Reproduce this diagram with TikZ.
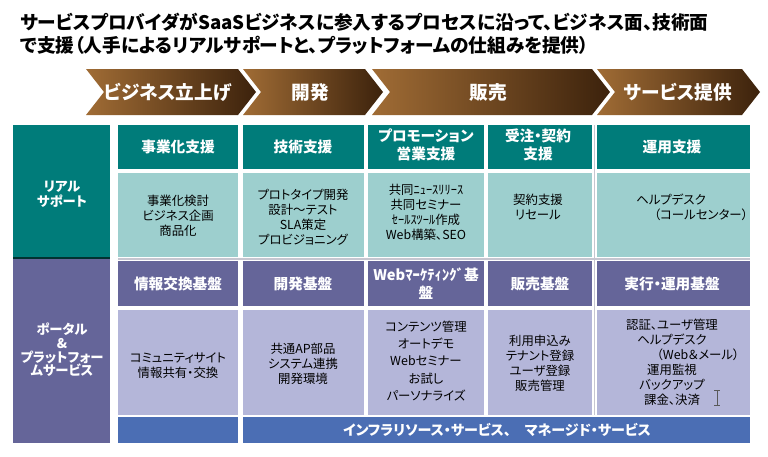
\documentclass[tikz,border=0pt]{standalone}
\usepackage{fontspec}
\setmainfont{Noto Sans CJK JP}[RawFeature=+palt]
\definecolor{ctealdk}{HTML}{007C7A}
\definecolor{ctealbg}{HTML}{9DCFCE}
\definecolor{cpurdk}{HTML}{656599}
\definecolor{cpurbg}{HTML}{B4B6D9}
\definecolor{cinfra}{HTML}{4B6EB4}
\definecolor{cbrownlt}{HTML}{A06C35}
\definecolor{cbrownmd}{HTML}{885829}
\definecolor{cbrowndk}{HTML}{3C220C}
\definecolor{csep}{HTML}{C6C6D0}
\tikzset{
  chev/.style={left color=cbrownlt, middle color=cbrownmd, right color=cbrowndk},
  chevtext/.style={text=white, inner sep=0pt, font=\fontsize{14}{16}\selectfont\bfseries},
  hdrtext/.style={text=white, align=center, inner sep=0pt, font=\fontsize{11}{13.5}\selectfont\bfseries},
  bodytext/.style={align=center, inner sep=0pt, font=\fontsize{9.3}{11.3}\selectfont},
  sidetext/.style={text=white, align=center, inner sep=0pt, font=\fontsize{10}{11}\selectfont\bfseries},
  titletext/.style={align=left, inner sep=0pt, font=\fontsize{14}{17.5}\selectfont\bfseries},
}

\begin{document}
\begin{tikzpicture}[x=0.75pt, y=-0.75pt]
  \useasboundingbox (0,0) rectangle (768,457);
  % title
  \node[titletext, anchor=west] (title) at (20,34) {サービスプロバイダがSaaSビジネスに参入するプロセスに沿って、ビジネス面、技術面\\で支援（人手によるリアルサポートと、プラットフォームの仕組みを提供）};
  % process stages
  \foreach \xl/\xr/\tx/\lbl [count=\i] in {86/238/168/ビジネス立上げ, 243/365/310/開発, 372/592/488/販売, 597/742/678/サービス提供} {
    \shade[chev] (\xl,69) -- (\xr,69) -- (\xr+18,92) -- (\xr,115) -- (\xl,115) -- (\xl+18,92) -- cycle;
    \node[chevtext] (stage\i) at (\tx,92) {\lbl};
  }
  % row labels
  \fill[ctealdk] (13,125) rectangle (110,258);
  \fill[cpurdk] (13,259) rectangle (110,443);
  \draw[ctealdk!40!black, line width=0.8pt] (13,258) -- (110,258);
  \node[sidetext, font=\fontsize{10}{11.3}\selectfont\bfseries] (real) at (62,194) {リアル\\サポート};
  \node[sidetext, font=\fontsize{10}{10.2}\selectfont\bfseries] (portal) at (62,350) {ポータル\\\&\\プラットフォー\\ムサービス};
  % cells
  \foreach \xa/\xb in {118/238, 243/364, 368/484, 488/592, 597/750} {
    \fill[ctealdk] (\xa,125) rectangle (\xb,169);
    \fill[ctealbg] (\xa,173) rectangle (\xb,257);
    \fill[cpurdk] (\xa,261) rectangle (\xb,306);
    \fill[cpurbg] (\xa,310) rectangle (\xb,415);
  }
  \draw[csep, line width=0.8pt] (118,259) -- (750,259);
  \draw[csep, line width=0.8pt] (594.5,125) -- (594.5,415);
  % real support
  \node[hdrtext] (rh1) at (178,147) {事業化支援};
  \node[hdrtext] (rh2) at (303,147) {技術支援};
  \node[hdrtext] (rh3) at (426,145) {プロモーション\\営業支援};
  \node[hdrtext] (rh4) at (538,145) {受注・契約\\支援};
  \node[hdrtext] (rh5) at (672,147) {運用支援};
  \node[bodytext] (rb1) at (178,216) {事業化検討\\ビジネス企画\\商品化};
  \node[bodytext] (rb2) at (303,217) {プロトタイプ開発\\設計～テスト\\SLA策定\\プロビジョニング};
  \node[bodytext] (rb3) at (426,212) {共同ﾆｭｰｽﾘﾘｰｽ\\共同セミナー\\ｾｰﾙｽﾂｰﾙ作成\\Web構築、SEO};
  \node[bodytext] (rb4) at (538,207) {契約支援\\リセール};
  \node[bodytext] (rb5) at (671,207) {ヘルプデスク\\\hspace*{45pt}（コールセンター）};
  % platform
  \node[hdrtext] (ph1) at (178,284) {情報交換基盤};
  \node[hdrtext] (ph2) at (303,284) {開発基盤};
  \node[hdrtext] (ph3) at (426,284) {Webﾏｰｹﾃｨﾝｸﾞ基\\盤};
  \node[hdrtext] (ph4) at (540,284) {販売基盤};
  \node[hdrtext] (ph5) at (672,284) {実行・運用基盤};
  \node[bodytext] (pb1) at (178,366) {コミュニティサイト\\情報共有・交換};
  \node[bodytext] (pb2) at (303,364) {共通AP部品\\システム連携\\開発環境};
  \node[bodytext, font=\fontsize{9.3}{13}\selectfont] (pb3) at (426,361) {コンテンツ管理\\オートデモ\\Webセミナー\\お試し\\パーソナライズ};
  \node[bodytext] (pb4) at (540,363) {利用申込み\\テナント登録\\ユーザ登録\\販売管理};
  \node[bodytext] (pb5) at (672,362) {認証、ユーザ管理\\ヘルプデスク\\\hspace*{39pt}（Web＆メール）\\運用監視\\バックアップ\\課金、決済};
  % infrastructure
  \fill[cinfra] (118,417) rectangle (238,443);
  \fill[cinfra] (243,417) rectangle (750,443);
  \node[sidetext, font=\fontsize{10.5}{12}\selectfont\bfseries] (infra) at (497,430) {インフラリソース・サービス、\hspace{1em}マネージド・サービス};
  % cursor
  \draw[black!65, line width=0.6pt] (714,390) -- (720,390) (717,390) -- (717,405) (714,405) -- (720,405);
\end{tikzpicture}
\end{document}
